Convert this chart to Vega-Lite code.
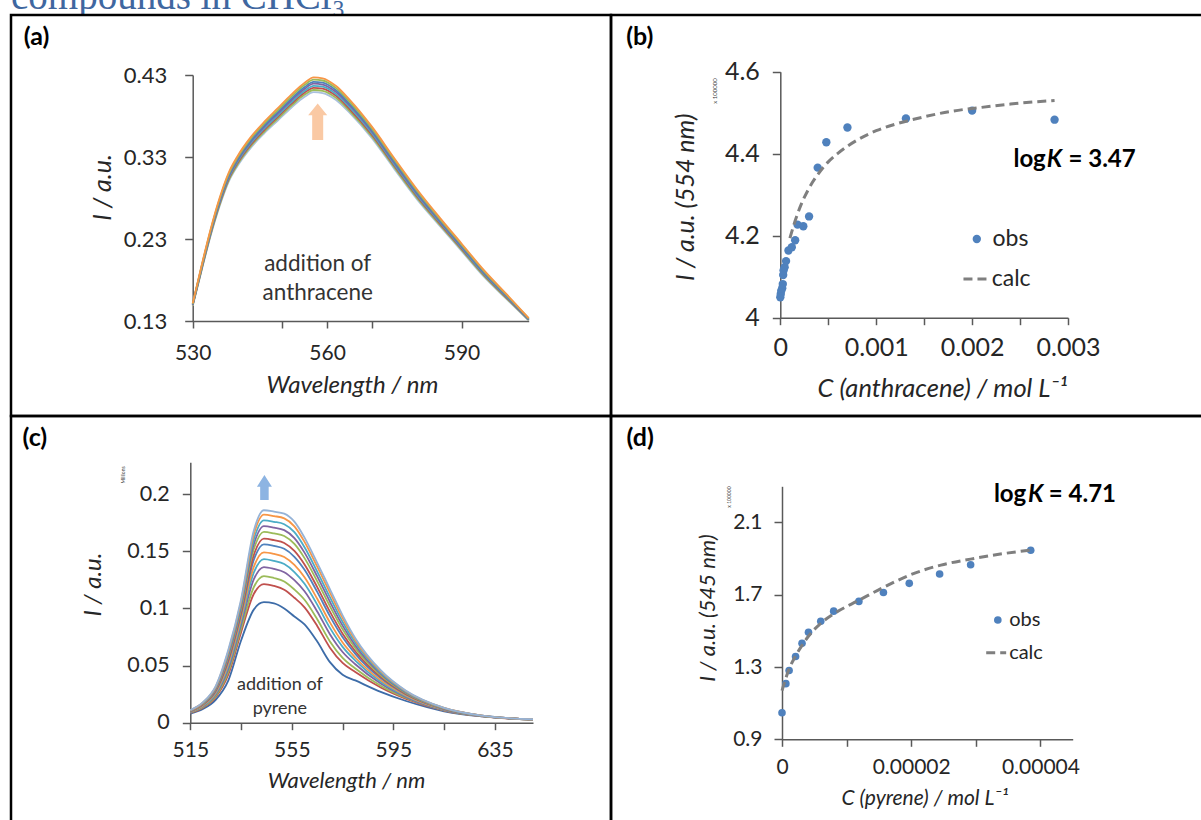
{
"$schema": "https://vega.github.io/schema/vega-lite/v6.json",
"background": "white",
"padding": {"left": 9, "top": 0, "right": 0, "bottom": 0},
"spacing": 0,
"bounds": "flush",
"columns": 2,
"config": {
  "view": {"stroke": "#000000", "strokeWidth": 2.5},
  "axis": {"grid": false, "domainColor": "#595959", "domainWidth": 1.5, "tickColor": "#595959", "tickWidth": 1.5, "labelColor": "#262626", "titleColor": "#262626", "labelFont": "Lato", "titleFont": "Lato", "titleFontStyle": "italic", "titleFontWeight": "normal", "labelFlush": false, "labelOverlap": false, "labelBound": false},
  "text": {"font": "Lato"},
  "concat": {"spacing": 0}
},
"concat": [
{
  "width": 600, "height": 15,
  "view": {"stroke": null},
  "data": {"values": [{"t": "compounds in CHCl₃"}]},
  "mark": {"type": "text", "clip": true, "align": "left", "baseline": "alphabetic", "font": "Liberation Serif", "fontSize": 39, "color": "#3F67A0"},
  "encoding": {
    "text": {"field": "t", "type": "nominal"},
    "x": {"datum": 0, "type": "quantitative", "scale": {"domain": [0, 1]}, "axis": null},
    "y": {"datum": 0.4, "type": "quantitative", "scale": {"domain": [0, 1]}, "axis": null}
  }
},
{
  "width": 600, "height": 15,
  "view": {"stroke": null},
  "data": {"values": [{"t": ""}]},
  "mark": {"type": "text", "clip": true},
  "encoding": {"text": {"field": "t", "type": "nominal"}}
},
{
    "width": 600, "height": 401,
    "layer": [
    {
      "data": {"values": [
{"w":530,"s":1,"v":0.1485},{"w":530,"s":2,"v":0.149},{"w":530,"s":3,"v":0.1494},{"w":530,"s":4,"v":0.1498},{"w":530,"s":5,"v":0.1502},{"w":530,"s":6,"v":0.1506},{"w":530,"s":7,"v":0.1511},{"w":530,"s":8,"v":0.1515},
{"w":532,"s":1,"v":0.192},{"w":532,"s":2,"v":0.1929},{"w":532,"s":3,"v":0.1938},{"w":532,"s":4,"v":0.1946},{"w":532,"s":5,"v":0.1955},{"w":532,"s":6,"v":0.1962},{"w":532,"s":7,"v":0.1971},{"w":532,"s":8,"v":0.198},
{"w":534,"s":1,"v":0.234},{"w":534,"s":2,"v":0.2352},{"w":534,"s":3,"v":0.2364},{"w":534,"s":4,"v":0.2374},{"w":534,"s":5,"v":0.2386},{"w":534,"s":6,"v":0.2396},{"w":534,"s":7,"v":0.2408},{"w":534,"s":8,"v":0.242},
{"w":536,"s":1,"v":0.27},{"w":536,"s":2,"v":0.2715},{"w":536,"s":3,"v":0.273},{"w":536,"s":4,"v":0.2743},{"w":536,"s":5,"v":0.2758},{"w":536,"s":6,"v":0.277},{"w":536,"s":7,"v":0.2785},{"w":536,"s":8,"v":0.28},
{"w":538,"s":1,"v":0.2995},{"w":538,"s":2,"v":0.3012},{"w":538,"s":3,"v":0.3028},{"w":538,"s":4,"v":0.3042},{"w":538,"s":5,"v":0.3058},{"w":538,"s":6,"v":0.3072},{"w":538,"s":7,"v":0.3089},{"w":538,"s":8,"v":0.3105},
{"w":540,"s":1,"v":0.319},{"w":540,"s":2,"v":0.3208},{"w":540,"s":3,"v":0.3226},{"w":540,"s":4,"v":0.3241},{"w":540,"s":5,"v":0.3259},{"w":540,"s":6,"v":0.3274},{"w":540,"s":7,"v":0.3292},{"w":540,"s":8,"v":0.331},
{"w":543,"s":1,"v":0.3415},{"w":543,"s":2,"v":0.3435},{"w":543,"s":3,"v":0.3454},{"w":543,"s":4,"v":0.347},{"w":543,"s":5,"v":0.349},{"w":543,"s":6,"v":0.3506},{"w":543,"s":7,"v":0.3526},{"w":543,"s":8,"v":0.3545},
{"w":546,"s":1,"v":0.359},{"w":546,"s":2,"v":0.3611},{"w":546,"s":3,"v":0.3632},{"w":546,"s":4,"v":0.365},{"w":546,"s":5,"v":0.3671},{"w":546,"s":6,"v":0.3688},{"w":546,"s":7,"v":0.3709},{"w":546,"s":8,"v":0.373},
{"w":549,"s":1,"v":0.3745},{"w":549,"s":2,"v":0.3768},{"w":549,"s":3,"v":0.379},{"w":549,"s":4,"v":0.3809},{"w":549,"s":5,"v":0.3831},{"w":549,"s":6,"v":0.385},{"w":549,"s":7,"v":0.3873},{"w":549,"s":8,"v":0.3895},
{"w":552,"s":1,"v":0.39},{"w":552,"s":2,"v":0.3924},{"w":552,"s":3,"v":0.3948},{"w":552,"s":4,"v":0.3968},{"w":552,"s":5,"v":0.3992},{"w":552,"s":6,"v":0.4012},{"w":552,"s":7,"v":0.4036},{"w":552,"s":8,"v":0.406},
{"w":555,"s":1,"v":0.4035},{"w":555,"s":2,"v":0.4061},{"w":555,"s":3,"v":0.4086},{"w":555,"s":4,"v":0.4107},{"w":555,"s":5,"v":0.4133},{"w":555,"s":6,"v":0.4154},{"w":555,"s":7,"v":0.418},{"w":555,"s":8,"v":0.4205},
{"w":557,"s":1,"v":0.409},{"w":557,"s":2,"v":0.4117},{"w":557,"s":3,"v":0.4144},{"w":557,"s":4,"v":0.4167},{"w":557,"s":5,"v":0.4194},{"w":557,"s":6,"v":0.4216},{"w":557,"s":7,"v":0.4243},{"w":557,"s":8,"v":0.427},
{"w":559,"s":1,"v":0.408},{"w":559,"s":2,"v":0.4107},{"w":559,"s":3,"v":0.4134},{"w":559,"s":4,"v":0.4157},{"w":559,"s":5,"v":0.4184},{"w":559,"s":6,"v":0.4206},{"w":559,"s":7,"v":0.4233},{"w":559,"s":8,"v":0.426},
{"w":562,"s":1,"v":0.3995},{"w":562,"s":2,"v":0.4021},{"w":562,"s":3,"v":0.4046},{"w":562,"s":4,"v":0.4067},{"w":562,"s":5,"v":0.4093},{"w":562,"s":6,"v":0.4114},{"w":562,"s":7,"v":0.414},{"w":562,"s":8,"v":0.4165},
{"w":565,"s":1,"v":0.384},{"w":565,"s":2,"v":0.3864},{"w":565,"s":3,"v":0.3888},{"w":565,"s":4,"v":0.3908},{"w":565,"s":5,"v":0.3932},{"w":565,"s":6,"v":0.3952},{"w":565,"s":7,"v":0.3976},{"w":565,"s":8,"v":0.4},
{"w":570,"s":1,"v":0.353},{"w":570,"s":2,"v":0.3551},{"w":570,"s":3,"v":0.3572},{"w":570,"s":4,"v":0.359},{"w":570,"s":5,"v":0.3611},{"w":570,"s":6,"v":0.3628},{"w":570,"s":7,"v":0.3649},{"w":570,"s":8,"v":0.367},
{"w":575,"s":1,"v":0.3155},{"w":575,"s":2,"v":0.3175},{"w":575,"s":3,"v":0.3194},{"w":575,"s":4,"v":0.321},{"w":575,"s":5,"v":0.323},{"w":575,"s":6,"v":0.3246},{"w":575,"s":7,"v":0.3266},{"w":575,"s":8,"v":0.3285},
{"w":580,"s":1,"v":0.279},{"w":580,"s":2,"v":0.2808},{"w":580,"s":3,"v":0.2826},{"w":580,"s":4,"v":0.2841},{"w":580,"s":5,"v":0.2859},{"w":580,"s":6,"v":0.2874},{"w":580,"s":7,"v":0.2892},{"w":580,"s":8,"v":0.291},
{"w":585,"s":1,"v":0.247},{"w":585,"s":2,"v":0.2485},{"w":585,"s":3,"v":0.25},{"w":585,"s":4,"v":0.2513},{"w":585,"s":5,"v":0.2528},{"w":585,"s":6,"v":0.254},{"w":585,"s":7,"v":0.2555},{"w":585,"s":8,"v":0.257},
{"w":590,"s":1,"v":0.2155},{"w":590,"s":2,"v":0.2169},{"w":590,"s":3,"v":0.2182},{"w":590,"s":4,"v":0.2193},{"w":590,"s":5,"v":0.2207},{"w":590,"s":6,"v":0.2218},{"w":590,"s":7,"v":0.2232},{"w":590,"s":8,"v":0.2245},
{"w":595,"s":1,"v":0.184},{"w":595,"s":2,"v":0.1852},{"w":595,"s":3,"v":0.1864},{"w":595,"s":4,"v":0.1874},{"w":595,"s":5,"v":0.1886},{"w":595,"s":6,"v":0.1896},{"w":595,"s":7,"v":0.1908},{"w":595,"s":8,"v":0.192},
{"w":600,"s":1,"v":0.157},{"w":600,"s":2,"v":0.1579},{"w":600,"s":3,"v":0.1588},{"w":600,"s":4,"v":0.1596},{"w":600,"s":5,"v":0.1605},{"w":600,"s":6,"v":0.1612},{"w":600,"s":7,"v":0.1621},{"w":600,"s":8,"v":0.163},
{"w":605,"s":1,"v":0.1305},{"w":605,"s":2,"v":0.131},{"w":605,"s":3,"v":0.1314},{"w":605,"s":4,"v":0.1318},{"w":605,"s":5,"v":0.1322},{"w":605,"s":6,"v":0.1326},{"w":605,"s":7,"v":0.1331},{"w":605,"s":8,"v":0.1335}
      ]},
      "mark": {"type": "line", "strokeWidth": 1.8, "interpolate": "monotone"},
      "encoding": {
        "x": {"field": "w", "type": "quantitative",
          "scale": {"domain": [530, 605], "range": [181.7, 517.7], "zero": false, "nice": false},
          "axis": {"values": [530, 550, 560, 570, 590], "labelExpr": "datum.value == 550 || datum.value == 570 ? '' : datum.label", "offset": -95, "tickSize": 7, "labelPadding": 14, "labelFontSize": 21, "title": "Wavelength / nm", "titleFontSize": 24, "titleX": 341, "titleY": 64, "titleBaseline": "middle", "titleAlign": "center"}},
        "y": {"field": "v", "type": "quantitative",
          "scale": {"domain": [0.13, 0.43], "range": [306, 60], "zero": false, "nice": false},
          "axis": {"values": [0.13, 0.23, 0.33, 0.43], "format": "~g", "offset": -181.7, "tickSize": 8, "labelPadding": 18, "labelFontSize": 22, "title": "I / a.u.", "titleFontSize": 25, "titleAngle": 270, "titleX": -90.7, "titleY": 172, "titleBaseline": "middle", "titleAlign": "center"}},
        "color": {"field": "s", "type": "nominal", "scale": {"domain": [1,2,3,4,5,6,7,8], "range": ["#A9C0DE","#9BBB59","#C0504D","#4BACC6","#8064A2","#4F81BD","#9BBB59","#F79646"]}, "legend": null}
      }
    },
    {
      "data": {"values": [{}]},
      "mark": {"type": "point", "shape": "M0,-1 L0.52,-0.36 L0.3,-0.36 L0.3,1 L-0.3,1 L-0.3,-0.36 L-0.52,-0.36 Z", "size": 1347, "filled": true, "color": "#FAC9A4", "opacity": 1, "strokeWidth": 0},
      "encoding": {"x": {"datum": 557.9}, "y": {"datum": 0.373}}
    },
    {
      "data": {"values": [{}]},
      "mark": {"type": "text", "text": ["addition of", "anthracene"], "fontSize": 22.5, "lineHeight": 28.5, "align": "center", "baseline": "middle", "color": "#333333"},
      "encoding": {"x": {"datum": 557.9}, "y": {"datum": 0.1993}}
    },
    {
      "data": {"values": [{}]},
      "mark": {"type": "text", "text": "(a)", "fontSize": 25, "fontWeight": "bold", "align": "left", "baseline": "middle", "color": "#000000"},
      "encoding": {"x": {"datum": 492.3}, "y": {"datum": 0.4763}}
    }
    ]
},
{
    "width": 600, "height": 401,
    "layer": [
    {
      "data": {"values": [
{"c":0,"i":4.05},{"c":0.000005,"i":4.058},{"c":0.00001,"i":4.066},{"c":0.00002,"i":4.072},{"c":0.000026,"i":4.082},{"c":0.00003,"i":4.104},{"c":0.000034,"i":4.115},{"c":0.000045,"i":4.123},{"c":0.00006,"i":4.138},{"c":0.000085,"i":4.164},{"c":0.00012,"i":4.172},{"c":0.000155,"i":4.189},{"c":0.00018,"i":4.227},{"c":0.00024,"i":4.223},{"c":0.0003,"i":4.247},{"c":0.00039,"i":4.366},{"c":0.00048,"i":4.428},{"c":0.0007,"i":4.464},{"c":0.00131,"i":4.486},{"c":0.002,"i":4.505},{"c":0.00286,"i":4.483}
      ]},
      "mark": {"type": "circle", "size": 70, "color": "#4F81BD", "opacity": 1},
      "encoding": {
        "x": {"field": "c", "type": "quantitative",
          "scale": {"domain": [0, 0.003], "range": [169.3, 457], "zero": false, "nice": false},
          "axis": {"values": [0, 0.0005, 0.001, 0.0015, 0.002, 0.0025, 0.003], "labelExpr": "round(datum.value*2000) % 2 == 1 ? '' : format(datum.value, '.3~f')", "offset": -98.3, "tickSize": 7, "labelPadding": 11, "labelFontSize": 25, "title": "C (anthracene) / mol L⁻¹", "titleFontSize": 25.5, "titleX": 331, "titleY": 70.3, "titleBaseline": "middle", "titleAlign": "center"}},
        "y": {"field": "i", "type": "quantitative",
          "scale": {"domain": [4, 4.6], "range": [302.7, 56.7], "zero": false, "nice": false},
          "axis": {"values": [4, 4.2, 4.4, 4.6], "format": "~g", "offset": -169.3, "tickSize": 8, "labelPadding": 13, "labelFontSize": 25, "title": "I / a.u.  (554 nm)", "titleFontSize": 25, "titleAngle": 270, "titleX": -95.3, "titleY": 181.7, "titleBaseline": "middle", "titleAlign": "center"}}
      }
    },
    {
      "data": {"values": [
{"c":0.0001,"i":4.194},{"c":0.00015,"i":4.233},{"c":0.0002,"i":4.266},{"c":0.0003,"i":4.316},{"c":0.0004,"i":4.352},{"c":0.0005,"i":4.38},{"c":0.0006,"i":4.401},{"c":0.0008,"i":4.433},{"c":0.001,"i":4.456},{"c":0.0012,"i":4.472},{"c":0.0015,"i":4.49},{"c":0.0018,"i":4.504},{"c":0.0021,"i":4.513},{"c":0.0024,"i":4.521},{"c":0.00286,"i":4.53}
      ]},
      "mark": {"type": "line", "color": "#7F7F7F", "strokeWidth": 3, "strokeDash": [9, 5], "interpolate": "monotone"},
      "encoding": {"x": {"field": "c", "type": "quantitative"}, "y": {"field": "i", "type": "quantitative"}}
    },
    {
      "data": {"values": [{}]},
      "mark": {"type": "circle", "size": 70, "color": "#4F81BD", "opacity": 1},
      "encoding": {"x": {"datum": 0.002049}, "y": {"datum": 4.192}}
    },
    {
      "data": {"values": [{}]},
      "mark": {"type": "text", "text": "obs", "fontSize": 23, "align": "left", "baseline": "middle", "color": "#262626"},
      "encoding": {"x": {"datum": 0.002213}, "y": {"datum": 4.192}}
    },
    {
      "data": {"values": [{}]},
      "mark": {"type": "rule", "color": "#7F7F7F", "strokeWidth": 3, "strokeDash": [9, 5]},
      "encoding": {"x": {"datum": 0.00191}, "x2": {"datum": 0.002184}, "y": {"datum": 4.0944}}
    },
    {
      "data": {"values": [{}]},
      "mark": {"type": "text", "text": "calc", "fontSize": 23, "align": "left", "baseline": "middle", "color": "#262626"},
      "encoding": {"x": {"datum": 0.002205}, "y": {"datum": 4.0944}}
    },
    {
      "data": {"values": [{}]},
      "mark": {"type": "text", "text": "log", "fontSize": 24, "fontWeight": "bold", "align": "left", "baseline": "middle", "color": "#000000"},
      "encoding": {"x": {"datum": 0.002431}, "y": {"datum": 4.3846}}
    },
    {
      "data": {"values": [{}]},
      "mark": {"type": "text", "text": "K", "fontSize": 24, "fontWeight": "bold", "fontStyle": "italic", "align": "left", "baseline": "middle", "color": "#000000"},
      "encoding": {"x": {"datum": 0.002778}, "y": {"datum": 4.3846}}
    },
    {
      "data": {"values": [{}]},
      "mark": {"type": "text", "text": "= 3.47", "fontSize": 24, "fontWeight": "bold", "align": "left", "baseline": "middle", "color": "#000000"},
      "encoding": {"x": {"datum": 0.003005}, "y": {"datum": 4.3846}}
    },
    {
      "data": {"values": [{}]},
      "mark": {"type": "text", "text": "x 100000", "fontSize": 6, "angle": 270, "align": "center", "baseline": "middle", "color": "#404040"},
      "encoding": {"x": {"datum": -0.00068}, "y": {"datum": 4.553}}
    },
    {
      "data": {"values": [{}]},
      "mark": {"type": "text", "text": "(b)", "fontSize": 25, "fontWeight": "bold", "align": "left", "baseline": "middle", "color": "#000000"},
      "encoding": {"x": {"datum": -0.001607}, "y": {"datum": 4.6846}}
    }
    ]
},
{
    "width": 600, "height": 420,
    "layer": [
    {
      "data": {"values": [
{"w":515,"s":1,"v":0.008},{"w":515,"s":2,"v":0.0086},{"w":515,"s":3,"v":0.0089},{"w":515,"s":4,"v":0.0091},{"w":515,"s":5,"v":0.0094},{"w":515,"s":6,"v":0.0096},{"w":515,"s":7,"v":0.0099},{"w":515,"s":8,"v":0.0101},{"w":515,"s":9,"v":0.0103},{"w":515,"s":10,"v":0.0105},{"w":515,"s":11,"v":0.0107},{"w":515,"s":12,"v":0.0109},{"w":515,"s":13,"v":0.011},
{"w":520,"s":1,"v":0.012},{"w":520,"s":2,"v":0.0132},{"w":520,"s":3,"v":0.0137},{"w":520,"s":4,"v":0.0143},{"w":520,"s":5,"v":0.0148},{"w":520,"s":6,"v":0.0153},{"w":520,"s":7,"v":0.0158},{"w":520,"s":8,"v":0.0161},{"w":520,"s":9,"v":0.0166},{"w":520,"s":10,"v":0.017},{"w":520,"s":11,"v":0.0173},{"w":520,"s":12,"v":0.0177},{"w":520,"s":13,"v":0.018},
{"w":525,"s":1,"v":0.02},{"w":525,"s":2,"v":0.0224},{"w":525,"s":3,"v":0.0234},{"w":525,"s":4,"v":0.0246},{"w":525,"s":5,"v":0.0256},{"w":525,"s":6,"v":0.0265},{"w":525,"s":7,"v":0.0276},{"w":525,"s":8,"v":0.0283},{"w":525,"s":9,"v":0.0292},{"w":525,"s":10,"v":0.0299},{"w":525,"s":11,"v":0.0307},{"w":525,"s":12,"v":0.0314},{"w":525,"s":13,"v":0.032},
{"w":530,"s":1,"v":0.037},{"w":530,"s":2,"v":0.0423},{"w":530,"s":3,"v":0.0447},{"w":530,"s":4,"v":0.0473},{"w":530,"s":5,"v":0.0497},{"w":530,"s":6,"v":0.0517},{"w":530,"s":7,"v":0.054},{"w":530,"s":8,"v":0.0557},{"w":530,"s":9,"v":0.0577},{"w":530,"s":10,"v":0.0593},{"w":530,"s":11,"v":0.061},{"w":530,"s":12,"v":0.0627},{"w":530,"s":13,"v":0.064},
{"w":535,"s":1,"v":0.072},{"w":535,"s":2,"v":0.0791},{"w":535,"s":3,"v":0.0822},{"w":535,"s":4,"v":0.0858},{"w":535,"s":5,"v":0.0889},{"w":535,"s":6,"v":0.0915},{"w":535,"s":7,"v":0.0947},{"w":535,"s":8,"v":0.0969},{"w":535,"s":9,"v":0.0995},{"w":535,"s":10,"v":0.1018},{"w":535,"s":11,"v":0.104},{"w":535,"s":12,"v":0.1062},{"w":535,"s":13,"v":0.108},
{"w":540,"s":1,"v":0.099},{"w":540,"s":2,"v":0.1127},{"w":540,"s":3,"v":0.1186},{"w":540,"s":4,"v":0.1254},{"w":540,"s":5,"v":0.1314},{"w":540,"s":6,"v":0.1365},{"w":540,"s":7,"v":0.1425},{"w":540,"s":8,"v":0.1467},{"w":540,"s":9,"v":0.1518},{"w":540,"s":10,"v":0.1561},{"w":540,"s":11,"v":0.1603},{"w":540,"s":12,"v":0.1646},{"w":540,"s":13,"v":0.168},
{"w":544,"s":1,"v":0.1055},{"w":544,"s":2,"v":0.1214},{"w":544,"s":3,"v":0.1284},{"w":544,"s":4,"v":0.1363},{"w":544,"s":5,"v":0.1433},{"w":544,"s":6,"v":0.1492},{"w":544,"s":7,"v":0.1562},{"w":544,"s":8,"v":0.1611},{"w":544,"s":9,"v":0.1671},{"w":544,"s":10,"v":0.1721},{"w":544,"s":11,"v":0.1771},{"w":544,"s":12,"v":0.1821},{"w":544,"s":13,"v":0.186},
{"w":548,"s":1,"v":0.1045},{"w":548,"s":2,"v":0.1197},{"w":548,"s":3,"v":0.1267},{"w":548,"s":4,"v":0.1347},{"w":548,"s":5,"v":0.1417},{"w":548,"s":6,"v":0.1478},{"w":548,"s":7,"v":0.1548},{"w":548,"s":8,"v":0.1598},{"w":548,"s":9,"v":0.1657},{"w":548,"s":10,"v":0.1708},{"w":548,"s":11,"v":0.1759},{"w":548,"s":12,"v":0.1809},{"w":548,"s":13,"v":0.1848},
{"w":552,"s":1,"v":0.1},{"w":552,"s":2,"v":0.1164},{"w":552,"s":3,"v":0.1236},{"w":552,"s":4,"v":0.1318},{"w":552,"s":5,"v":0.1389},{"w":552,"s":6,"v":0.1451},{"w":552,"s":7,"v":0.1523},{"w":552,"s":8,"v":0.1574},{"w":552,"s":9,"v":0.1635},{"w":552,"s":10,"v":0.1686},{"w":552,"s":11,"v":0.1738},{"w":552,"s":12,"v":0.1789},{"w":552,"s":13,"v":0.183},
{"w":556,"s":1,"v":0.093},{"w":556,"s":2,"v":0.1094},{"w":556,"s":3,"v":0.1166},{"w":556,"s":4,"v":0.1248},{"w":556,"s":5,"v":0.1319},{"w":556,"s":6,"v":0.1381},{"w":556,"s":7,"v":0.1453},{"w":556,"s":8,"v":0.1504},{"w":556,"s":9,"v":0.1565},{"w":556,"s":10,"v":0.1616},{"w":556,"s":11,"v":0.1668},{"w":556,"s":12,"v":0.1719},{"w":556,"s":13,"v":0.176},
{"w":560,"s":1,"v":0.086},{"w":560,"s":2,"v":0.101},{"w":560,"s":3,"v":0.1076},{"w":560,"s":4,"v":0.1151},{"w":560,"s":5,"v":0.1216},{"w":560,"s":6,"v":0.1273},{"w":560,"s":7,"v":0.1339},{"w":560,"s":8,"v":0.1385},{"w":560,"s":9,"v":0.1441},{"w":560,"s":10,"v":0.1489},{"w":560,"s":11,"v":0.1536},{"w":560,"s":12,"v":0.1583},{"w":560,"s":13,"v":0.162},
{"w":565,"s":1,"v":0.071},{"w":565,"s":2,"v":0.0847},{"w":565,"s":3,"v":0.0906},{"w":565,"s":4,"v":0.0974},{"w":565,"s":5,"v":0.1034},{"w":565,"s":6,"v":0.1085},{"w":565,"s":7,"v":0.1145},{"w":565,"s":8,"v":0.1187},{"w":565,"s":9,"v":0.1238},{"w":565,"s":10,"v":0.1281},{"w":565,"s":11,"v":0.1323},{"w":565,"s":12,"v":0.1366},{"w":565,"s":13,"v":0.14},
{"w":570,"s":1,"v":0.053},{"w":570,"s":2,"v":0.0657},{"w":570,"s":3,"v":0.0712},{"w":570,"s":4,"v":0.0775},{"w":570,"s":5,"v":0.083},{"w":570,"s":6,"v":0.0878},{"w":570,"s":7,"v":0.0933},{"w":570,"s":8,"v":0.0972},{"w":570,"s":9,"v":0.102},{"w":570,"s":10,"v":0.1059},{"w":570,"s":11,"v":0.1099},{"w":570,"s":12,"v":0.1139},{"w":570,"s":13,"v":0.117},
{"w":575,"s":1,"v":0.042},{"w":575,"s":2,"v":0.0523},{"w":575,"s":3,"v":0.0568},{"w":575,"s":4,"v":0.0619},{"w":575,"s":5,"v":0.0664},{"w":575,"s":6,"v":0.0702},{"w":575,"s":7,"v":0.0748},{"w":575,"s":8,"v":0.0779},{"w":575,"s":9,"v":0.0818},{"w":575,"s":10,"v":0.085},{"w":575,"s":11,"v":0.0882},{"w":575,"s":12,"v":0.0915},{"w":575,"s":13,"v":0.094},
{"w":580,"s":1,"v":0.037},{"w":580,"s":2,"v":0.0443},{"w":580,"s":3,"v":0.0475},{"w":580,"s":4,"v":0.0512},{"w":580,"s":5,"v":0.0544},{"w":580,"s":6,"v":0.0571},{"w":580,"s":7,"v":0.0603},{"w":580,"s":8,"v":0.0626},{"w":580,"s":9,"v":0.0653},{"w":580,"s":10,"v":0.0676},{"w":580,"s":11,"v":0.0699},{"w":580,"s":12,"v":0.0722},{"w":580,"s":13,"v":0.074},
{"w":590,"s":1,"v":0.027},{"w":590,"s":2,"v":0.0308},{"w":590,"s":3,"v":0.0324},{"w":590,"s":4,"v":0.0343},{"w":590,"s":5,"v":0.0359},{"w":590,"s":6,"v":0.0373},{"w":590,"s":7,"v":0.039},{"w":590,"s":8,"v":0.0401},{"w":590,"s":9,"v":0.0415},{"w":590,"s":10,"v":0.0427},{"w":590,"s":11,"v":0.0439},{"w":590,"s":12,"v":0.0451},{"w":590,"s":13,"v":0.046},
{"w":600,"s":1,"v":0.019},{"w":600,"s":2,"v":0.0208},{"w":600,"s":3,"v":0.0216},{"w":600,"s":4,"v":0.0224},{"w":600,"s":5,"v":0.0232},{"w":600,"s":6,"v":0.0239},{"w":600,"s":7,"v":0.0247},{"w":600,"s":8,"v":0.0252},{"w":600,"s":9,"v":0.0259},{"w":600,"s":10,"v":0.0264},{"w":600,"s":11,"v":0.027},{"w":600,"s":12,"v":0.0276},{"w":600,"s":13,"v":0.028},
{"w":615,"s":1,"v":0.01},{"w":615,"s":2,"v":0.0106},{"w":615,"s":3,"v":0.0109},{"w":615,"s":4,"v":0.0111},{"w":615,"s":5,"v":0.0114},{"w":615,"s":6,"v":0.0116},{"w":615,"s":7,"v":0.0119},{"w":615,"s":8,"v":0.0121},{"w":615,"s":9,"v":0.0123},{"w":615,"s":10,"v":0.0125},{"w":615,"s":11,"v":0.0127},{"w":615,"s":12,"v":0.0129},{"w":615,"s":13,"v":0.013},
{"w":630,"s":1,"v":0.0055},{"w":630,"s":2,"v":0.0056},{"w":630,"s":3,"v":0.0057},{"w":630,"s":4,"v":0.0058},{"w":630,"s":5,"v":0.0058},{"w":630,"s":6,"v":0.0059},{"w":630,"s":7,"v":0.0059},{"w":630,"s":8,"v":0.006},{"w":630,"s":9,"v":0.006},{"w":630,"s":10,"v":0.0061},{"w":630,"s":11,"v":0.0061},{"w":630,"s":12,"v":0.0062},{"w":630,"s":13,"v":0.0062},
{"w":650,"s":1,"v":0.0026},{"w":650,"s":2,"v":0.0027},{"w":650,"s":3,"v":0.0027},{"w":650,"s":4,"v":0.0028},{"w":650,"s":5,"v":0.0028},{"w":650,"s":6,"v":0.0028},{"w":650,"s":7,"v":0.0029},{"w":650,"s":8,"v":0.0029},{"w":650,"s":9,"v":0.0029},{"w":650,"s":10,"v":0.0029},{"w":650,"s":11,"v":0.003},{"w":650,"s":12,"v":0.003},{"w":650,"s":13,"v":0.003}
      ]},
      "mark": {"type": "line", "strokeWidth": 1.8, "interpolate": "monotone"},
      "encoding": {
        "x": {"field": "w", "type": "quantitative",
          "scale": {"domain": [515, 650], "range": [179.3, 522], "zero": false, "nice": false},
          "axis": {"values": [515, 535, 555, 575, 595, 615, 635], "labelExpr": "(datum.value - 515) % 40 == 20 ? '' : datum.label", "offset": -113.3, "tickSize": 7, "labelPadding": 10, "labelFontSize": 21, "title": "Wavelength / nm", "titleFontSize": 22, "titleX": 335, "titleY": 57.3, "titleBaseline": "middle", "titleAlign": "center"}},
        "y": {"field": "v", "type": "quantitative",
          "scale": {"domain": [0, 0.228], "range": [306.7, 46.3], "zero": false, "nice": false},
          "axis": {"values": [0, 0.05, 0.1, 0.15, 0.2], "format": "~g", "offset": -179.3, "tickSize": 8, "labelPadding": 13, "labelFontSize": 21.5, "title": "I / a.u.", "titleFontSize": 24, "titleAngle": 270, "titleX": -97.3, "titleY": 168, "titleBaseline": "middle", "titleAlign": "center"}},
        "stroke": {"field": "s", "type": "nominal", "scale": {"domain": [1,2,3,4,5,6,7,8,9,10,11,12,13], "range": ["#3D6CA8","#C0504D","#9BBB59","#8064A2","#4BACC6","#F79646","#4F81BD","#C0504D","#9BBB59","#8064A2","#4BACC6","#F79646","#95B3D7"]}, "legend": null}
      }
    },
    {
      "data": {"values": [{}]},
      "mark": {"type": "point", "shape": "M0,-1 L0.6,-0.06 L0.34,-0.06 L0.34,1 L-0.34,1 L-0.34,-0.06 L-0.6,-0.06 Z", "size": 625, "filled": true, "color": "#8DB4E2", "opacity": 1, "strokeWidth": 0},
      "encoding": {"x": {"datum": 544.2}, "y": {"datum": 0.206}}
    },
    {
      "data": {"values": [{}]},
      "mark": {"type": "text", "text": ["addition of", "pyrene"], "fontSize": 18, "lineHeight": 23.7, "align": "center", "baseline": "middle", "color": "#333333"},
      "encoding": {"x": {"datum": 550.3}, "y": {"datum": 0.03314}}
    },
    {
      "data": {"values": [{}]},
      "mark": {"type": "text", "text": "Millions", "fontSize": 5, "angle": 270, "align": "center", "baseline": "middle", "color": "#404040"},
      "encoding": {"x": {"datum": 488.3}, "y": {"datum": 0.2169}}
    },
    {
      "data": {"values": [{}]},
      "mark": {"type": "text", "text": "(c)", "fontSize": 25, "fontWeight": "bold", "align": "left", "baseline": "middle", "color": "#000000"},
      "encoding": {"x": {"datum": 448.9}, "y": {"datum": 0.2493}}
    }
    ]
},
{
    "width": 600, "height": 420,
    "layer": [
    {
      "data": {"values": [
{"c":0,"i":1.047},{"c":0.0000006,"i":1.208},{"c":0.0000011,"i":1.281},{"c":0.0000021,"i":1.358},{"c":0.0000031,"i":1.431},{"c":0.0000041,"i":1.492},{"c":0.000006,"i":1.553},{"c":0.000008,"i":1.609},{"c":0.0000119,"i":1.663},{"c":0.0000157,"i":1.712},{"c":0.0000197,"i":1.763},{"c":0.0000244,"i":1.815},{"c":0.0000292,"i":1.866},{"c":0.0000385,"i":1.946}
      ]},
      "mark": {"type": "circle", "size": 58, "color": "#4F81BD", "opacity": 1},
      "encoding": {
        "x": {"field": "c", "type": "quantitative",
          "scale": {"domain": [0, 0.000045], "range": [171, 461.7], "zero": false, "nice": false},
          "axis": {"values": [0, 0.00001, 0.00002, 0.00003, 0.00004], "labelExpr": "round(datum.value*100000) % 2 == 1 ? '' : format(datum.value, '.5~f')", "offset": -96.7, "tickSize": 7, "labelPadding": 10, "labelFontSize": 21, "title": "C (pyrene) / mol L⁻¹", "titleFontSize": 21, "titleX": 313.5, "titleY": 59, "titleBaseline": "middle", "titleAlign": "center"}},
        "y": {"field": "i", "type": "quantitative",
          "scale": {"domain": [0.9, 2.3], "range": [323.3, 70.3], "zero": false, "nice": false},
          "axis": {"values": [0.9, 1.3, 1.7, 2.1], "format": "~g", "offset": -171, "tickSize": 8, "labelPadding": 12, "labelFontSize": 21, "title": "I / a.u.  (545 nm)", "titleFontSize": 22, "titleAngle": 270, "titleX": -74.3, "titleY": 191.5, "titleBaseline": "middle", "titleAlign": "center"}}
      }
    },
    {
      "data": {"values": [
{"c":0,"i":1.169},{"c":0.0000005,"i":1.228},{"c":0.000001,"i":1.28},{"c":0.000002,"i":1.355},{"c":0.000003,"i":1.414},{"c":0.000004,"i":1.466},{"c":0.000006,"i":1.542},{"c":0.000008,"i":1.594},{"c":0.000012,"i":1.671},{"c":0.000016,"i":1.746},{"c":0.00002,"i":1.812},{"c":0.0000246,"i":1.864},{"c":0.0000292,"i":1.897},{"c":0.0000338,"i":1.925},{"c":0.0000385,"i":1.947}
      ]},
      "mark": {"type": "line", "color": "#7F7F7F", "strokeWidth": 3, "strokeDash": [9, 5], "interpolate": "monotone"},
      "encoding": {"x": {"field": "c", "type": "quantitative"}, "y": {"field": "i", "type": "quantitative"}}
    },
    {
      "data": {"values": [{}]},
      "mark": {"type": "circle", "size": 58, "color": "#4F81BD", "opacity": 1},
      "encoding": {"x": {"datum": 0.00003341}, "y": {"datum": 1.56}}
    },
    {
      "data": {"values": [{}]},
      "mark": {"type": "text", "text": "obs", "fontSize": 20, "align": "left", "baseline": "middle", "color": "#262626"},
      "encoding": {"x": {"datum": 0.00003516}, "y": {"datum": 1.56}}
    },
    {
      "data": {"values": [{}]},
      "mark": {"type": "rule", "color": "#7F7F7F", "strokeWidth": 3, "strokeDash": [9, 5]},
      "encoding": {"x": {"datum": 0.00003161}, "x2": {"datum": 0.0000347}, "y": {"datum": 1.379}}
    },
    {
      "data": {"values": [{}]},
      "mark": {"type": "text", "text": "calc", "fontSize": 20, "align": "left", "baseline": "middle", "color": "#262626"},
      "encoding": {"x": {"datum": 0.00003516}, "y": {"datum": 1.379}}
    },
    {
      "data": {"values": [{}]},
      "mark": {"type": "text", "text": "log", "fontSize": 24, "fontWeight": "bold", "align": "left", "baseline": "middle", "color": "#000000"},
      "encoding": {"x": {"datum": 0.0000328}, "y": {"datum": 2.2516}}
    },
    {
      "data": {"values": [{}]},
      "mark": {"type": "text", "text": "K", "fontSize": 24, "fontWeight": "bold", "fontStyle": "italic", "align": "left", "baseline": "middle", "color": "#000000"},
      "encoding": {"x": {"datum": 0.00003807}, "y": {"datum": 2.2516}}
    },
    {
      "data": {"values": [{}]},
      "mark": {"type": "text", "text": "= 4.71", "fontSize": 24, "fontWeight": "bold", "align": "left", "baseline": "middle", "color": "#000000"},
      "encoding": {"x": {"datum": 0.0000413}, "y": {"datum": 2.2516}}
    },
    {
      "data": {"values": [{}]},
      "mark": {"type": "text", "text": "x 100000", "fontSize": 5, "angle": 270, "align": "center", "baseline": "middle", "color": "#404040"},
      "encoding": {"x": {"datum": -0.00000823}, "y": {"datum": 2.2405}}
    },
    {
      "data": {"values": [{}]},
      "mark": {"type": "text", "text": "(d)", "fontSize": 25, "fontWeight": "bold", "align": "left", "baseline": "middle", "color": "#000000"},
      "encoding": {"x": {"datum": -0.00002406}, "y": {"datum": 2.567}}
    }
    ]
}
]
}
